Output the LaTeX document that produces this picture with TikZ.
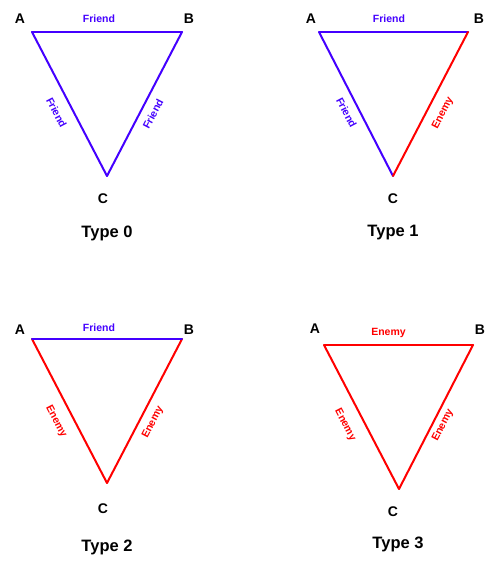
\documentclass[tikz,border=0pt]{standalone}
\usepackage{fontspec}
\setmainfont{Liberation Sans}
\definecolor{fblue}{HTML}{4400FF}
\definecolor{ered}{HTML}{FF0000}
\tikzset{
  x=1pt, y=-1pt,
  edgeline/.style={line width=2pt, line cap=round, line join=round},
  friend/.style={edgeline, draw=fblue},
  enemy/.style={edgeline, draw=ered},
  vlabel/.style={font=\fontsize{14}{14}\selectfont\bfseries, text=black, inner sep=0pt},
  title/.style={font=\fontsize{16.5}{16.5}\selectfont\bfseries, text=black, inner sep=0pt},
  elabel/.style={font=\fontsize{10.5}{10.5}\selectfont\bfseries, inner sep=0pt},
  flabel/.style={elabel, text=fblue},
  nlabel/.style={elabel, text=ered},
}
\begin{document}
\begin{tikzpicture}
\useasboundingbox[fill=white] (0,0) rectangle (500,567);
% ---------- Type 0 ----------
\coordinate (A0) at (32,32);
\coordinate (B0) at (182,32);
\coordinate (C0) at (107,176);
\draw[friend] (A0) -- (B0);
\draw[friend] (A0) -- (C0);
\draw[friend] (C0) -- (B0);
\node[vlabel] (lA0) at (20,19) {A};
\node[vlabel] (lB0) at (189,19) {B};
\node[vlabel] (lC0) at (103,199) {C};
\node[flabel] (eAB0) at (99,19) {Friend};
\node[flabel, rotate=-62.5] (eAC0) at (56.5,112.5) {Friend};
\node[flabel, rotate=62.5] (eBC0) at (153,114) {Friend};
\node[title] (t0) at (107,233) {Type 0};
% ---------- Type 1 ----------
\coordinate (A1) at (319,32);
\coordinate (B1) at (468,32);
\coordinate (C1) at (393,176);
\draw[friend] (A1) -- (B1);
\draw[friend] (A1) -- (C1);
\draw[enemy] (C1) -- (B1);
\node[vlabel] (lA1) at (311,19) {A};
\node[vlabel] (lB1) at (479,19) {B};
\node[vlabel] (lC1) at (393,199) {C};
\node[flabel] (eAB1) at (389,19) {Friend};
\node[flabel, rotate=-62.5] (eAC1) at (346.5,112.5) {Friend};
\node[nlabel, rotate=62.5] (eBC1) at (443,113) {Enemy};
\node[title] (t1) at (393,233) {Type 1};
% ---------- Type 2 ----------
\coordinate (A2) at (32,339);
\coordinate (B2) at (182,339);
\coordinate (C2) at (107,483);
\draw[enemy] (A2) -- (C2);
\draw[enemy] (C2) -- (B2);
\draw[friend] (A2) -- (B2);
\node[vlabel] (lA2) at (20,330) {A};
\node[vlabel] (lB2) at (189,330) {B};
\node[vlabel] (lC2) at (103,509) {C};
\node[flabel] (eAB2) at (99,328) {Friend};
\node[nlabel, rotate=-62.5] (eAC2) at (56,421.5) {Enemy};
\node[nlabel, rotate=62.5] (eBC2) at (153,422.5) {Enemy};
\node[title] (t2) at (107,547) {Type 2};
% ---------- Type 3 ----------
\coordinate (A3) at (324,345);
\coordinate (B3) at (473,345);
\coordinate (C3) at (399,489);
\draw[enemy] (A3) -- (B3);
\draw[enemy] (A3) -- (C3);
\draw[enemy] (C3) -- (B3);
\node[vlabel] (lA3) at (315,329) {A};
\node[vlabel] (lB3) at (480,330) {B};
\node[vlabel] (lC3) at (393,512) {C};
\node[nlabel] (eAB3) at (388.5,333) {Enemy};
\node[nlabel, rotate=-62.5] (eAC3) at (345,425) {Enemy};
\node[nlabel, rotate=62.5] (eBC3) at (443,425.5) {Enemy};
\node[title] (t3) at (398,544) {Type 3};
\end{tikzpicture}
\end{document}
